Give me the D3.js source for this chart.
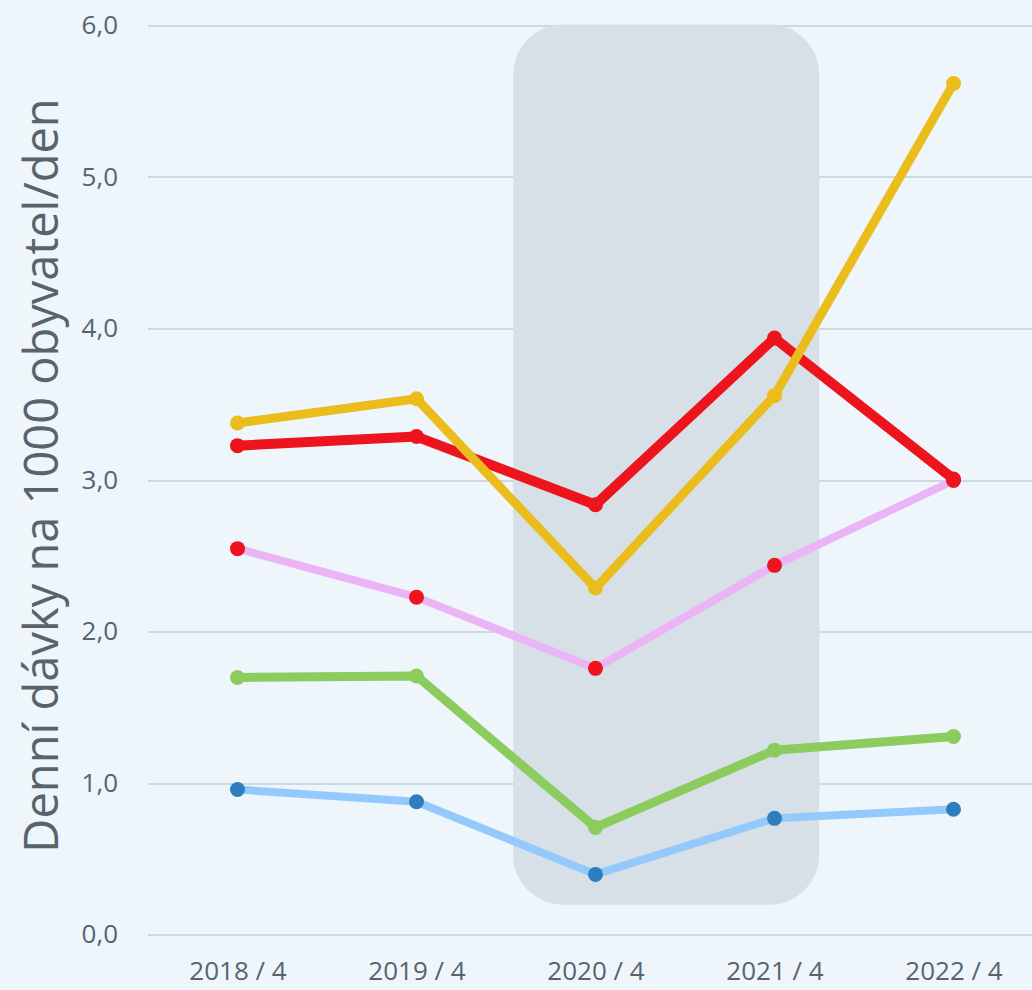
<!DOCTYPE html>
<meta charset="utf-8">
<head>
<style>
  body { margin: 0; background-color: #EEF6FC; }
  svg { display: block; }
  .grid line { stroke: #CCD9E0; stroke-width: 2px; shape-rendering: crispEdges; }
  .tick text { fill: #59636B; font-family: "Open Sans", "Noto Sans", sans-serif; font-size: 26px; }
  .ylabel { fill: #59636B; font-family: "Open Sans", "Noto Sans", sans-serif; font-size: 47px; }
</style>
</head>
<body>
<svg id="chart" width="1032" height="990"></svg>
<script src="https://cdn.jsdelivr.net/npm/d3@7"></script>
<script>
var categories = ["2018 / 4", "2019 / 4", "2020 / 4", "2021 / 4", "2022 / 4"];
var yTicks = [0, 1, 2, 3, 4, 5, 6];

var blueValues   = [0.96, 0.88, 0.40, 0.77, 0.83];
var greenValues  = [1.70, 1.71, 0.71, 1.22, 1.31];
var pinkValues   = [2.55, 2.23, 1.76, 2.44, 3.00];
var redValues    = [3.23, 3.29, 2.84, 3.94, 3.01];
var yellowValues = [3.38, 3.54, 2.29, 3.56, 5.62];

// highlighted period (2020 / 4 .. 2021 / 4)
var highlight = ["2020 / 4", "2021 / 4"];

var series = [
  { name: "blue",   values: blueValues,   line: "#94CAFB", dot: "#2F7CBF", width: 8 },
  { name: "green",  values: greenValues,  line: "#8CCB5E", dot: "#8CCB5E", width: 9 },
  { name: "pink",   values: pinkValues,   line: "#EBB4F5", dot: "#EE141E", width: 8 },
  { name: "red",    values: redValues,    line: "#EE141E", dot: "#EE141E", width: 10 },
  { name: "yellow", values: yellowValues, line: "#EBBD1C", dot: "#EBBD1C", width: 9 }
];

var svg = d3.select("#chart");
var plotLeft = 148, plotRight = 1043, plotTop = 26, plotBottom = 935;

var x = d3.scalePoint().domain(categories).range([plotLeft, plotRight]).padding(0.5);
var y = d3.scaleLinear().domain([0, 6]).range([plotBottom, plotTop]);

// grid
svg.append("g").attr("class", "grid")
  .selectAll("line").data(yTicks).enter().append("line")
  .attr("x1", plotLeft).attr("x2", 1032)
  .attr("y1", function(d) { return Math.round(y(d)); })
  .attr("y2", function(d) { return Math.round(y(d)); });

// y tick labels
var yAxis = svg.append("g")
  .attr("transform", "translate(" + (plotLeft - 30) + ",0)")
  .call(d3.axisLeft(y).tickValues(yTicks).tickSize(0)
    .tickFormat(function(d) { return d3.format(".1f")(d).replace(".", ","); }));
yAxis.select(".domain").remove();
yAxis.selectAll("text").attr("x", 0).attr("dy", "0.3em");

// x tick labels
var xAxis = svg.append("g")
  .attr("transform", "translate(0," + (plotBottom + 22) + ")")
  .call(d3.axisBottom(x).tickSize(0));
xAxis.select(".domain").remove();
xAxis.selectAll("text").attr("y", 0).attr("dy", "0.9em");

// shaded period
var step = x.step();
svg.append("rect")
  .attr("x", x(highlight[0]) - step * 0.46)
  .attr("width", x(highlight[1]) - x(highlight[0]) + step * 0.71)
  .attr("y", y(6.01))
  .attr("height", y(0.2) - y(6.01))
  .attr("rx", 50).attr("ry", 50)
  .attr("fill", "#D7E0E6");

// axis title
svg.append("text")
  .attr("class", "ylabel")
  .attr("transform", "translate(58," + ((plotTop + plotBottom) / 2 - 5) + ") rotate(-90)")
  .attr("text-anchor", "middle")
  .text("Denní dávky na 1000 obyvatel/den");

var line = d3.line()
  .x(function(d, i) { return x(categories[i]); })
  .y(function(d) { return y(d); });

series.forEach(function(s) {
  var g = svg.append("g").attr("class", "series " + s.name);
  g.append("path")
    .attr("d", line(s.values))
    .attr("fill", "none")
    .attr("stroke", s.line)
    .attr("stroke-width", s.width)
    .attr("stroke-linejoin", "round");
  g.selectAll("circle").data(s.values).enter().append("circle")
    .attr("cx", function(d, i) { return x(categories[i]); })
    .attr("cy", function(d) { return y(d); })
    .attr("r", 7.5)
    .attr("fill", s.dot);
});
</script>
</body>
</html>
